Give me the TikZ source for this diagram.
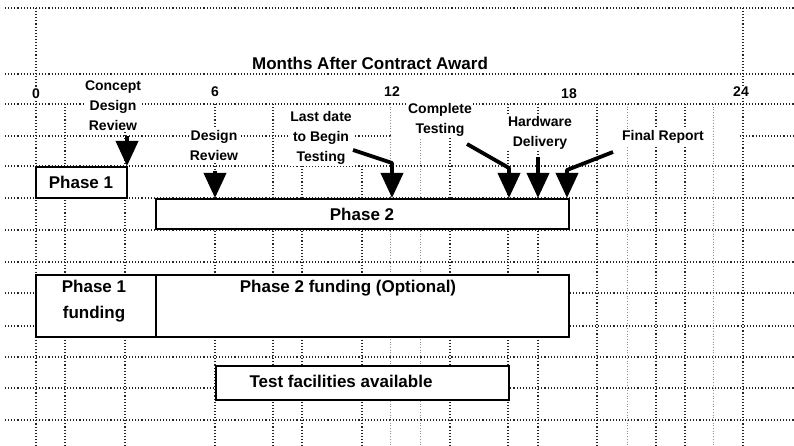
\documentclass[tikz,border=0pt]{standalone}
\usepackage{fontspec}
\setmainfont{Liberation Sans}
\usetikzlibrary{arrows.meta}
\begin{document}
\begin{tikzpicture}[x=1pt,y=-1pt,
  grid/.style={dotted, line width=1.1pt, black!85},
  faint/.style={dotted, line width=0.7pt, black!45},
  bar/.style={draw, line width=2.8pt, fill=white},
  boxtext/.style={font=\fontsize{17}{26}\selectfont\bfseries, align=center, inner sep=1pt},
  lbl/.style={font=\fontsize{14}{20}\selectfont\bfseries, align=center, fill=white, inner sep=1pt},
  tick/.style={font=\fontsize{14}{16}\selectfont\bfseries, fill=white, inner sep=1pt},
  title/.style={font=\fontsize{17}{20}\selectfont\bfseries, fill=white, inner sep=1pt},
  arr/.style={line width=3.8pt, line join=round, -{Triangle[length=25pt,width=22pt]}}
]
\useasboundingbox (0,0) rectangle (794,446);
\fill[white] (0,0) rectangle (794,446);

% grid: horizontal lines
\foreach \yy in {8,74,104,166,198,230,262,357,388,420}
  \draw[grid] (5,\yy) -- (794,\yy);
\draw[grid] (5,136) -- (392,136);
\draw[grid] (740,136) -- (794,136);
\foreach \yy in {293,326} {
  \draw[grid] (5,\yy) -- (36,\yy);
  \draw[grid] (570,\yy) -- (794,\yy);
}
% grid: vertical lines
\foreach \xx in {36,743}
  \draw[grid] (\xx,8) -- (\xx,446);
\foreach \xx in {65,125,215,273,450,508,538,597,656,685}
  \draw[grid] (\xx,104) -- (\xx,446);
\foreach \xx in {302,362}
  \draw[grid] (\xx,166) -- (\xx,446);
\foreach \xx in {390,420,627,713}
  \draw[faint] (\xx,104) -- (\xx,446);

% title and month ticks
\node[title] (ttl) at (370,63) {Months After Contract Award};
\node[tick] (m0) at (36,94) {0};
\node[tick] (m6) at (215,92) {6};
\node[tick] (m12) at (392,92) {12};
\node[tick] (m18) at (569,94) {18};
\node[tick] (m24) at (741,92) {24};

% milestone labels
\node[lbl] (cdr) at (113,106) {Concept\\Design\\Review};
\node[lbl] (dr) at (214,145) {Design\\Review};
\node[lbl] (ld) at (321,138) {Last date\\to Begin\\Testing};
\node[lbl] (ct) at (440,120) {Complete\\Testing};
\node[lbl] (hd) at (540,133) {Hardware\\Delivery};
\node[lbl] (fr) at (663,137) {Final Report};

% bars
\draw[bar] (36,167) rectangle (127,198);
\node[boxtext] (p1) at (81,182) {Phase 1};
\draw[bar] (156,199) rectangle (569,229);
\node[boxtext] (p2) at (362,214) {Phase 2};
\draw[bar] (36,275) rectangle (156,337);
\node[boxtext] (p1f) at (94,301) {Phase 1\\funding};
\draw[bar] (156,275) rectangle (569,337);
\node[boxtext] (p2f) at (348,288) {Phase 2 funding (Optional)};
\draw[bar] (216,366) rectangle (509,400);
\node[boxtext] (tf) at (341,381) {Test facilities available};

% arrows
\coordinate (cdrS) at (127,136);
\coordinate (cdrT) at (127,166);
\coordinate (drS) at (215,171);
\coordinate (drT) at (215,198);
\coordinate (ldS) at (353,150);
\coordinate (ldB) at (392,163);
\coordinate (ldT) at (392,198);
\coordinate (ctS) at (467,144);
\coordinate (ctB) at (509,168);
\coordinate (ctT) at (509,198);
\coordinate (hdS) at (538,157);
\coordinate (hdT) at (538,198);
\coordinate (frS) at (613,152);
\coordinate (frB) at (567,170);
\coordinate (frT) at (567,198);
\draw[arr] (cdrS) -- (cdrT);
\draw[arr] (drS) -- (drT);
\draw[arr] (ldS) -- (ldB) -- (ldT);
\draw[arr] (ctS) -- (ctB) -- (ctT);
\draw[arr] (hdS) -- (hdT);
\draw[arr] (frS) -- (frB) -- (frT);
\end{tikzpicture}
\end{document}
